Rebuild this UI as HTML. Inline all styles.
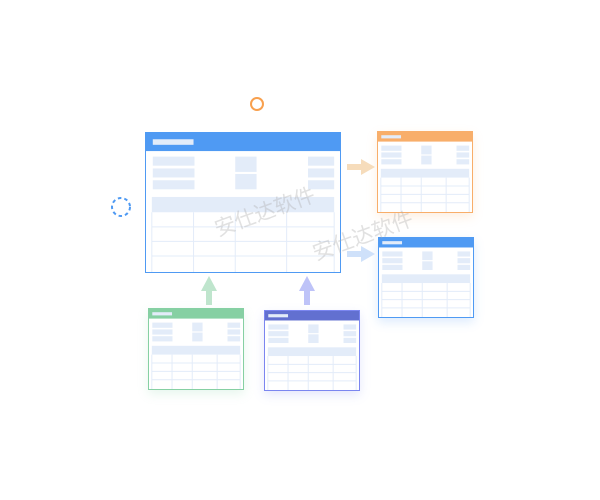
<!DOCTYPE html>
<html><head><meta charset="utf-8"><style>
html,body{margin:0;padding:0;background:#fff;}
body{width:600px;height:500px;position:relative;overflow:hidden;font-family:"Liberation Sans","Noto Sans CJK SC",sans-serif;}
.t{position:absolute;background:#fff;box-sizing:border-box;}
.wm{position:absolute;color:rgba(170,170,170,0.35);font-size:21px;transform:rotate(-20deg);font-family:"Noto Sans CJK SC",sans-serif;white-space:nowrap;}
</style></head><body>
<svg width="0" height="0" style="position:absolute">
<defs>
<g id="c">
<g fill="#e3ecf9">
<rect x="3.5" y="17" width="21.5" height="6.5"/><rect x="3.5" y="25.5" width="21.5" height="6.5"/><rect x="3.5" y="34" width="21.5" height="6.5"/>
<rect x="46" y="17" width="11" height="11"/><rect x="46" y="29.5" width="11" height="11"/>
<rect x="83.5" y="17" width="13.5" height="6.5"/><rect x="83.5" y="25.5" width="13.5" height="6.5"/><rect x="83.5" y="34" width="13.5" height="6.5"/>
<rect x="3" y="46" width="94" height="11"/>
</g>
<g stroke="#e3ecf9" stroke-width="1" fill="none" vector-effect="non-scaling-stroke">
<path vector-effect="non-scaling-stroke" d="M3 57V100M97 57V100M24.5 57V100M46 57V100M72.5 57V100M3 67.5H97M3 78H97M3 88.5H97"/>
</g>
</g>
</defs></svg>

<div class="t" style="left:145px;top:132px;width:196px;height:141px;border:1px solid #4f9af3;">
<svg width="194" height="139" viewBox="0 0 100 100" preserveAspectRatio="none" style="display:block"><rect width="100" height="13" fill="#4f9af3"/><rect x="3.5" y="4.5" width="21" height="4" fill="#e3ecf9"/><use href="#c"/></svg></div>

<div class="t" style="left:377px;top:131px;width:96px;height:82px;border:1px solid #f8ae6a;box-shadow:0 4px 10px rgba(248,174,106,0.2);">
<svg width="94" height="80" viewBox="0 0 100 100" preserveAspectRatio="none" style="display:block"><rect width="100" height="12" fill="#f8ae6a"/><rect x="3.5" y="4" width="21" height="4" fill="#e3ecf9"/><use href="#c"/></svg></div>

<div class="t" style="left:378px;top:237px;width:96px;height:81px;border:1px solid #4f9af3;box-shadow:0 4px 10px rgba(79,154,243,0.2);">
<svg width="94" height="79" viewBox="0 0 100 100" preserveAspectRatio="none" style="display:block"><rect width="100" height="12" fill="#4f9af3"/><rect x="3.5" y="4" width="21" height="4" fill="#e3ecf9"/><use href="#c"/></svg></div>

<div class="t" style="left:148px;top:308px;width:96px;height:82px;border:1px solid #86d0a3;box-shadow:0 4px 10px rgba(134,208,163,0.2);">
<svg width="94" height="80" viewBox="0 0 100 100" preserveAspectRatio="none" style="display:block"><rect width="100" height="12" fill="#86d0a3"/><rect x="3.5" y="4" width="21" height="4" fill="#e3ecf9"/><use href="#c"/></svg></div>

<div class="t" style="left:264px;top:310px;width:96px;height:81px;border:1px solid #7b86f0;box-shadow:0 4px 10px rgba(123,134,240,0.2);">
<svg width="94" height="79" viewBox="0 0 100 100" preserveAspectRatio="none" style="display:block"><rect width="100" height="12" fill="#6270d0"/><rect x="3.5" y="4" width="21" height="4" fill="#e3ecf9"/><use href="#c"/></svg></div>

<svg width="600" height="500" style="position:absolute;left:0;top:0">
<circle cx="257" cy="104" r="6" fill="none" stroke="#f8a04e" stroke-width="2"/>
<circle cx="121" cy="207" r="9" fill="none" stroke="#4f9af3" stroke-width="2" stroke-dasharray="3.5 3"/>
<path d="M347 164h14v-5l14 8-14 8v-5h-14z" fill="#f6dcbb"/>
<path d="M347 251h14v-5l14 8-14 8v-5h-14z" fill="#cfe1fa"/>
<path d="M206 305v-14h-5l8-15 8 15h-5v14z" fill="#bfe5cd"/>
<path d="M304 305v-14h-5l8-15 8 15h-5v14z" fill="#bec3f8"/>
</svg>
<div class="wm" style="left:212px;top:196px;">安仕达软件</div>
<div class="wm" style="left:310px;top:220px;">安仕达软件</div>
</body></html>
